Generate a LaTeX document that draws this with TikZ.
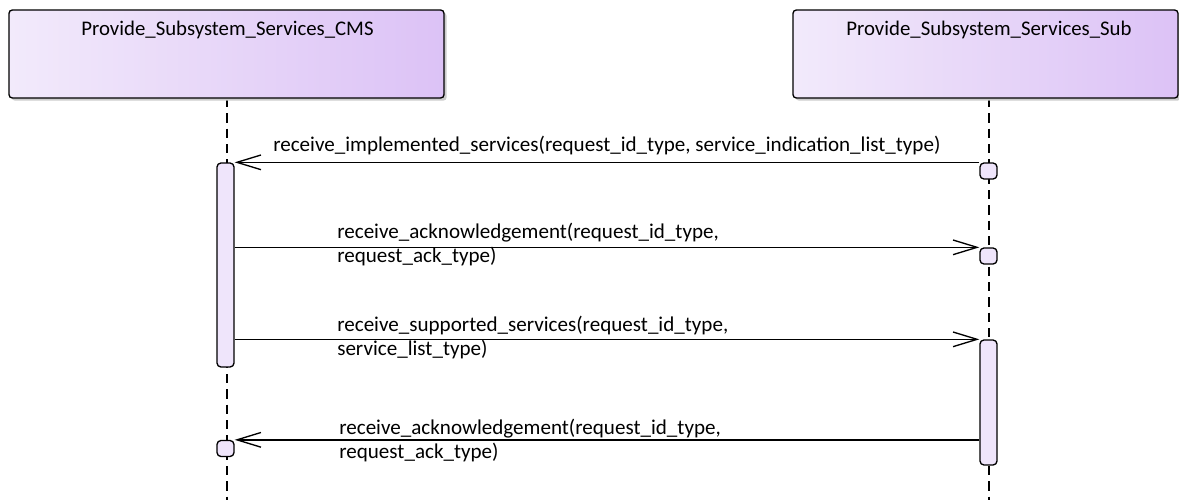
\documentclass[tikz,border=0pt]{standalone}
\usepackage{fontspec}
\setmainfont{Carlito}
\usetikzlibrary{arrows.meta,shadows}
\definecolor{gradL}{HTML}{F2EAFB}
\definecolor{gradR}{HTML}{DCC2F6}
\definecolor{actfill}{HTML}{EFE5FB}
\tikzset{
  header/.style={draw=black, line width=1pt, rounded corners=2.5pt, left color=gradL, right color=gradR,
    drop shadow={shadow xshift=2pt, shadow yshift=-2pt, fill=black!20, opacity=1}, inner sep=0pt},
  actbox/.style={draw=black, line width=1pt, rounded corners=3pt, fill=actfill, inner sep=0pt},
  lifeline/.style={line width=1pt, dash pattern=on 7pt off 4.5pt},
  msg/.style={line width=1pt, -{Straight Barb[length=18pt,width=11pt,line width=1pt]}},
  lbl/.style={font=\fontsize{15.8}{19}\selectfont, inner sep=0pt, anchor=base west},
  hlbl/.style={font=\fontsize{15.6}{19}\selectfont, inner sep=0pt, anchor=base},
}
\begin{document}
\begin{tikzpicture}[x=0.75pt,y=-0.75pt]
\useasboundingbox (0,0) rectangle (1179,500);
% lifelines
\coordinate (l1top) at (227,98);
\coordinate (l1bot) at (227,500);
\coordinate (l2top) at (989,98);
\coordinate (l2bot) at (989,500);
\draw[lifeline] (l1top) -- (l1bot);
\draw[lifeline] (l2top) -- (l2bot);
% headers
\node[header, minimum width=326.25pt, minimum height=66pt] (cms) at (226.5,54) {};
\node[header, minimum width=288.75pt, minimum height=66pt] (sub) at (985.5,54) {};
\node[hlbl] (cmst) at (227.5,35) {Provide\_Subsystem\_Services\_CMS};
\node[hlbl] (subt) at (989,35) {Provide\_Subsystem\_Services\_Sub};
% activations
\node[actbox, minimum width=12.75pt, minimum height=153pt] (act1) at (225.5,265) {};
\node[actbox, minimum width=12.75pt, minimum height=93.75pt] (act2) at (988.5,402.5) {};
\node[actbox, minimum width=12.75pt, minimum height=12pt] (s1) at (988.5,171) {};
\node[actbox, minimum width=12.75pt, minimum height=12pt] (s2) at (988.5,256) {};
\node[actbox, minimum width=12.75pt, minimum height=12pt] (s3) at (225.5,448.5) {};
% messages
\draw[msg] (s1.north west) -- (act1.east |- s1.north);
\node[lbl] (m1) at (273,151) {receive\_implemented\_services(request\_id\_type, service\_indication\_list\_type)};
\draw[msg] (act1.east |- s2.north) -- (s2.north west);
\node[lbl] (m2a) at (337,238) {receive\_acknowledgement(request\_id\_type,};
\node[lbl] (m2b) at (337,262) {request\_ack\_type)};
\draw[msg] (act1.east |- act2.north) -- (act2.north west);
\node[lbl] (m3a) at (337,331) {receive\_supported\_services(request\_id\_type,};
\node[lbl] (m3b) at (337,355) {service\_list\_type)};
\draw[msg] (act2.west |- s3.north) -- (s3.north east);
\node[lbl] (m4a) at (339,434) {receive\_acknowledgement(request\_id\_type,};
\node[lbl] (m4b) at (339,458) {request\_ack\_type)};
\end{tikzpicture}
\end{document}
